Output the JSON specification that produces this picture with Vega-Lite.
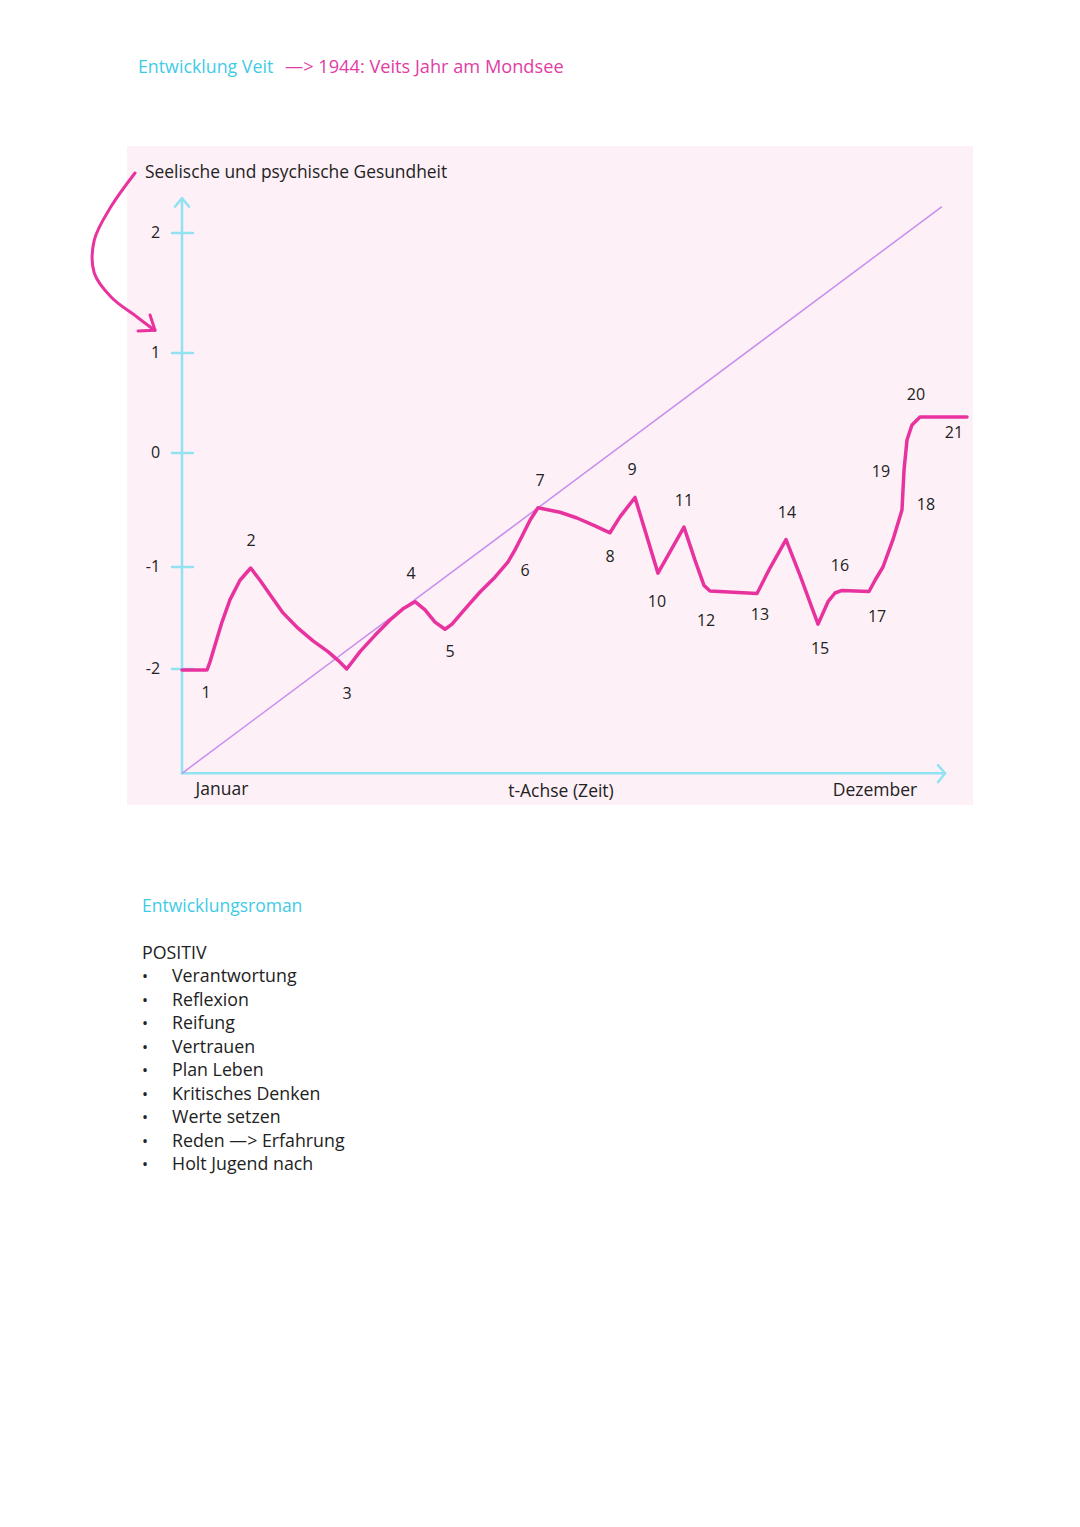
{
  "$schema": "https://vega.github.io/schema/vega-lite/v6.json",
  "width": 846,
  "height": 659,
  "autosize": {"type": "none"},
  "padding": {"left": 127, "top": 146, "right": 107, "bottom": 722},
  "background": "white",
  "config": {"view": {"fill": "#fdf0f7", "stroke": null}, "text": {"font": "Open Sans"}},
  "datasets": {
    "curve": [
      {"t": 0, "v": -2.01}, {"t": 3.28, "v": -2.01}, {"t": 3.67, "v": -1.93}, {"t": 4.33, "v": -1.765},
      {"t": 5.24, "v": -1.54}, {"t": 6.29, "v": -1.32}, {"t": 7.6, "v": -1.13}, {"t": 9.0, "v": -1.01},
      {"t": 10.22, "v": -1.13}, {"t": 11.8, "v": -1.3}, {"t": 13.24, "v": -1.45}, {"t": 15.2, "v": -1.6},
      {"t": 17.17, "v": -1.725}, {"t": 19.13, "v": -1.83}, {"t": 20.45, "v": -1.915}, {"t": 21.59, "v": -2.0},
      {"t": 23.33, "v": -1.83}, {"t": 25.29, "v": -1.67}, {"t": 27.26, "v": -1.52}, {"t": 28.96, "v": -1.41},
      {"t": 30.54, "v": -1.34}, {"t": 31.85, "v": -1.42}, {"t": 33.16, "v": -1.54}, {"t": 34.47, "v": -1.61},
      {"t": 35.39, "v": -1.56}, {"t": 37.22, "v": -1.4}, {"t": 39.06, "v": -1.245}, {"t": 41.02, "v": -1.1},
      {"t": 42.73, "v": -0.956}, {"t": 43.64, "v": -0.85}, {"t": 44.56, "v": -0.73}, {"t": 45.61, "v": -0.59},
      {"t": 46.66, "v": -0.48}, {"t": 49.54, "v": -0.52}, {"t": 51.77, "v": -0.57}, {"t": 54.13, "v": -0.64},
      {"t": 56.09, "v": -0.7}, {"t": 57.4, "v": -0.56}, {"t": 59.37, "v": -0.39}, {"t": 62.38, "v": -1.06},
      {"t": 65.79, "v": -0.65}, {"t": 67.23, "v": -0.94}, {"t": 68.41, "v": -1.18}, {"t": 69.2, "v": -1.235},
      {"t": 75.36, "v": -1.26}, {"t": 77.06, "v": -1.01}, {"t": 79.16, "v": -0.76}, {"t": 80.99, "v": -1.08},
      {"t": 82.57, "v": -1.4}, {"t": 83.36, "v": -1.56}, {"t": 84.67, "v": -1.34}, {"t": 85.58, "v": -1.255},
      {"t": 86.5, "v": -1.23}, {"t": 90.04, "v": -1.24}, {"t": 90.83, "v": -1.13}, {"t": 91.87, "v": -1.0},
      {"t": 93.18, "v": -0.76}, {"t": 94.36, "v": -0.5}, {"t": 94.63, "v": -0.15}, {"t": 95.02, "v": 0.13},
      {"t": 95.67, "v": 0.28}, {"t": 96.72, "v": 0.36}, {"t": 102.88, "v": 0.36}
    ],
    "labels": [
      {"n": "1", "t": 3.15, "v": -2.23}, {"n": "2", "t": 9.04, "v": -0.77}, {"n": "3", "t": 21.63, "v": -2.245},
      {"n": "4", "t": 30.01, "v": -1.07}, {"n": "5", "t": 35.12, "v": -1.83}, {"n": "6", "t": 44.95, "v": -1.04},
      {"n": "7", "t": 46.92, "v": -0.245}, {"n": "8", "t": 56.09, "v": -0.91}, {"n": "9", "t": 58.98, "v": -0.15},
      {"n": "10", "t": 62.25, "v": -1.34}, {"n": "11", "t": 65.79, "v": -0.42}, {"n": "12", "t": 68.68, "v": -1.53},
      {"n": "13", "t": 75.75, "v": -1.47}, {"n": "14", "t": 79.29, "v": -0.53}, {"n": "15", "t": 83.62, "v": -1.8},
      {"n": "16", "t": 86.24, "v": -0.99}, {"n": "17", "t": 91.09, "v": -1.49}, {"n": "18", "t": 97.51, "v": -0.46},
      {"n": "19", "t": 91.61, "v": -0.17}, {"n": "20", "t": 96.2, "v": 0.58}, {"n": "21", "t": 101.18, "v": 0.2}
    ],
    "axes": [
      {"t": 0, "v": -3.02, "t2": 0, "v2": 2.29},
      {"t": 0, "v": -3.02, "t2": 100, "v2": -3.02},
      {"t": -0.92, "v": 2.22, "t2": 0, "v2": 2.29},
      {"t": 0.92, "v": 2.22, "t2": 0, "v2": 2.29},
      {"t": 99.08, "v": -2.94, "t2": 100, "v2": -3.02},
      {"t": 99.08, "v": -3.108, "t2": 100, "v2": -3.02},
      {"t": -1.31, "v": 2, "t2": 1.44, "v2": 2},
      {"t": -1.31, "v": 1, "t2": 1.44, "v2": 1},
      {"t": -1.31, "v": 0, "t2": 1.44, "v2": 0},
      {"t": -1.31, "v": -1, "t2": 1.44, "v2": -1},
      {"t": -1.31, "v": -2, "t2": 1.44, "v2": -2}
    ],
    "ticklabels": [
      {"text": "2", "t": -2.88, "v": 2}, {"text": "1", "t": -2.88, "v": 1}, {"text": "0", "t": -2.88, "v": 0},
      {"text": "-1", "t": -2.88, "v": -1}, {"text": "-2", "t": -2.88, "v": -2}
    ],
    "xlabels": [
      {"text": "Januar", "t": 5.24, "v": -3.18},
      {"text": "t-Achse (Zeit)", "t": 49.67, "v": -3.2},
      {"text": "Dezember", "t": 90.83, "v": -3.19}
    ],
    "arrow": [
      {"i": 0, "t": -6.16, "v": 2.5}, {"i": 1, "t": -9.3, "v": 2.22}, {"i": 2, "t": -11.5, "v": 1.94},
      {"i": 3, "t": -11.5, "v": 1.667}, {"i": 4, "t": -9.3, "v": 1.467}, {"i": 5, "t": -5.9, "v": 1.3},
      {"i": 6, "t": -3.6, "v": 1.19}
    ],
    "arrowhead": [
      {"t": -4.19, "v": 1.317, "t2": -3.54, "v2": 1.19},
      {"t": -5.77, "v": 1.183, "t2": -3.54, "v2": 1.19}
    ],
    "list": [
      {"row": 0, "text": "Entwicklungsroman", "bullet": "", "t": -5.24},
      {"row": 2, "text": "POSITIV", "bullet": "", "t": -5.24},
      {"row": 3, "text": "Verantwortung", "bullet": "•", "t": -1.31},
      {"row": 4, "text": "Reflexion", "bullet": "•", "t": -1.31},
      {"row": 5, "text": "Reifung", "bullet": "•", "t": -1.31},
      {"row": 6, "text": "Vertrauen", "bullet": "•", "t": -1.31},
      {"row": 7, "text": "Plan Leben", "bullet": "•", "t": -1.31},
      {"row": 8, "text": "Kritisches Denken", "bullet": "•", "t": -1.31},
      {"row": 9, "text": "Werte setzen", "bullet": "•", "t": -1.31},
      {"row": 10, "text": "Reden —> Erfahrung", "bullet": "•", "t": -1.31},
      {"row": 11, "text": "Holt Jugend nach", "bullet": "•", "t": -1.31}
    ]
  },
  "layer": [
    {
      "encoding": {
        "x": {"field": "t", "type": "quantitative", "axis": null, "scale": {"domain": [-7.21, 103.67], "nice": false, "zero": false}},
        "y": {"field": "v", "type": "quantitative", "axis": null, "scale": {"domain": [-3.33, -2, -1, 0, 1, 2, 2.725], "range": [659, 523, 421, 307, 207, 87, 0], "nice": false, "zero": false}}
      },
      "layer": [
        {
          "data": {"name": "axes"},
          "mark": {"type": "rule", "color": "#92e2f2", "strokeWidth": 2.5, "strokeCap": "round"},
          "encoding": {"x2": {"field": "t2"}, "y2": {"field": "v2"}}
        },
        {
          "data": {"values": [{"t": 0, "v": -3.02, "t2": 99.6, "v2": 2.22}]},
          "mark": {"type": "rule", "color": "#c98df0", "strokeWidth": 1.5},
          "encoding": {"x2": {"field": "t2"}, "y2": {"field": "v2"}}
        },
        {
          "data": {"name": "curve"},
          "mark": {"type": "line", "color": "#e8339f", "strokeWidth": 3.5, "strokeJoin": "round", "strokeCap": "round", "interpolate": "linear"},
          "encoding": {"order": {"field": "t", "type": "quantitative"}}
        },
        {
          "data": {"name": "arrow"},
          "mark": {"type": "line", "color": "#e8339f", "strokeWidth": 3, "interpolate": "catmull-rom", "strokeCap": "round", "clip": false},
          "encoding": {"order": {"field": "i", "type": "quantitative"}}
        },
        {
          "data": {"name": "arrowhead"},
          "mark": {"type": "rule", "color": "#e8339f", "strokeWidth": 3, "strokeCap": "round"},
          "encoding": {"x2": {"field": "t2"}, "y2": {"field": "v2"}}
        },
        {
          "data": {"name": "labels"},
          "mark": {"type": "text", "fontSize": 16, "color": "#222222", "baseline": "middle", "align": "center"},
          "encoding": {"text": {"field": "n"}}
        },
        {
          "data": {"name": "ticklabels"},
          "mark": {"type": "text", "fontSize": 16, "color": "#222222", "baseline": "middle", "align": "right"},
          "encoding": {"text": {"field": "text"}}
        },
        {
          "data": {"name": "xlabels"},
          "mark": {"type": "text", "fontSize": 17.5, "color": "#222222", "baseline": "middle", "align": "center"},
          "encoding": {"text": {"field": "text"}}
        },
        {
          "data": {"values": [{"text": "Seelische und psychische Gesundheit", "t": -4.85, "v": 2.5}]},
          "mark": {"type": "text", "fontSize": 17.4, "color": "#222222", "baseline": "middle", "align": "left"},
          "encoding": {"text": {"field": "text"}}
        },
        {
          "data": {"values": [{"text": "Entwicklung Veit", "t": -5.77, "v": 3.375}]},
          "mark": {"type": "text", "fontSize": 17.8, "color": "#3fcbe6", "baseline": "middle", "align": "left"},
          "encoding": {"text": {"field": "text"}}
        },
        {
          "data": {"values": [{"text": "—> 1944: Veits Jahr am Mondsee", "t": 13.5, "v": 3.375}]},
          "mark": {"type": "text", "fontSize": 18.2, "color": "#e23ca5", "baseline": "middle", "align": "left"},
          "encoding": {"text": {"field": "text"}}
        }
      ]
    },
    {
      "encoding": {
        "x": {"field": "t", "type": "quantitative", "axis": null, "scale": {"domain": [-7.21, 103.67], "nice": false, "zero": false}},
        "y": {"field": "row", "type": "quantitative", "axis": null, "scale": {"domain": [-32.383, -4.34], "reverse": true, "nice": false, "zero": false}}
      },
      "layer": [
        {
          "data": {"name": "list"},
          "transform": [{"filter": "datum.row == 0"}],
          "mark": {"type": "text", "fontSize": 17.5, "color": "#3fcbe6", "baseline": "middle", "align": "left"},
          "encoding": {"text": {"field": "text"}}
        },
        {
          "data": {"name": "list"},
          "transform": [{"filter": "datum.row > 0"}],
          "mark": {"type": "text", "fontSize": 17.8, "color": "#222222", "baseline": "middle", "align": "left"},
          "encoding": {"text": {"field": "text"}}
        },
        {
          "data": {"name": "list"},
          "transform": [{"filter": "datum.bullet != ''"}],
          "mark": {"type": "text", "fontSize": 16, "color": "#222222", "baseline": "middle", "align": "center", "dx": -27},
          "encoding": {"text": {"field": "bullet"}}
        }
      ]
    }
  ],
  "resolve": {"scale": {"y": "independent"}}
}
